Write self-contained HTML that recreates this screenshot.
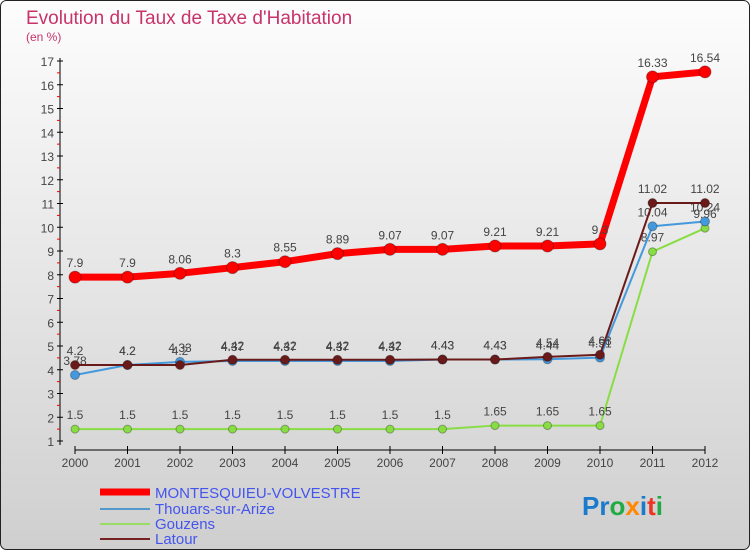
<!DOCTYPE html>
<html><head><meta charset="utf-8"><style>
body{margin:0;width:750px;height:550px;overflow:hidden;font-family:"Liberation Sans",sans-serif}
</style></head><body>
<svg width="750" height="550" xmlns="http://www.w3.org/2000/svg" id="svg">
<defs><linearGradient id="bg" x1="0" y1="0" x2="0" y2="1"><stop offset="0" stop-color="#fdfdfd"/><stop offset="1" stop-color="#cfcfcf"/></linearGradient></defs>
<rect x="0.5" y="0.5" width="749" height="549" rx="6" fill="url(#bg)" stroke="#222"/>
<text x="26" y="24" font-size="19" fill="#c8336a">Evolution du Taux de Taxe d'Habitation</text>
<text x="26" y="41" font-size="12" fill="#c8336a">(en %)</text>
<g id="axes"></g><g id="series"></g>
<g font-size="15">
<line x1="100" y1="492" x2="150" y2="492" stroke="#f00" stroke-width="7"/><text x="155" y="498" fill="#4455ee">MONTESQUIEU-VOLVESTRE</text>
<line x1="100" y1="509" x2="150" y2="509" stroke="#5599cc" stroke-width="2"/><text x="155" y="514" fill="#4455ee">Thouars-sur-Arize</text>
<line x1="100" y1="524" x2="150" y2="524" stroke="#99dd66" stroke-width="2"/><text x="155" y="529" fill="#4455ee">Gouzens</text>
<line x1="100" y1="539" x2="150" y2="539" stroke="#772222" stroke-width="2"/><text x="155" y="544" fill="#4455ee">Latour</text>
</g>
<text x="582" y="515" font-size="26" font-weight="bold"><tspan fill="#1a7acc">Pr</tspan><tspan fill="#22aa44">o</tspan><tspan fill="#ff8800">x</tspan><tspan fill="#1a7acc">i</tspan><tspan fill="#ee3322">t</tspan><tspan fill="#22aa44">i</tspan></text>
</svg>
<script>
const years=[2000,2001,2002,2003,2004,2005,2006,2007,2008,2009,2010,2011,2012];
const montesquieu=[7.9,7.9,8.06,8.3,8.55,8.89,9.07,9.07,9.21,9.21,9.3,16.33,16.54];
const thouars=[3.78,4.2,4.33,4.37,4.37,4.37,4.37,4.43,4.43,4.44,4.51,10.04,10.24];
const gouzens=[1.5,1.5,1.5,1.5,1.5,1.5,1.5,1.5,1.65,1.65,1.65,8.97,9.96];
const latour=[4.2,4.2,4.2,4.42,4.42,4.42,4.42,4.43,4.43,4.54,4.63,11.02,11.02];
const yTicks=[1,2,3,4,5,6,7,8,9,10,11,12,13,14,15,16,17];
const NS="http://www.w3.org/2000/svg";
const xS=i=>75+i*52.5, yS=v=>441-(v-1)*23.75;
function mk(t,a,p){const e=document.createElementNS(NS,t);for(const k in a)e.setAttribute(k,a[k]);p.appendChild(e);return e;}
const ax=document.getElementById('axes'), se=document.getElementById('series');
let l=mk('line',{x1:60,y1:58,x2:60,y2:445,stroke:'#000'},ax);


yTicks.forEach(v=>{const y=yS(v);
 mk('line',{x1:57,y1:y,x2:63,y2:y,stroke:'#000'},ax);
 if(v<17)mk('line',{x1:57,y1:yS(v+0.5),x2:60,y2:yS(v+0.5),stroke:'#e00'},ax);
 const t=mk('text',{x:54,y:y+5,'font-size':12,fill:'#444','text-anchor':'end'},ax);t.textContent=v;
 
 });
l=mk('line',{x1:75,y1:450,x2:705,y2:450,stroke:'#000'},ax);


years.forEach((yr,i)=>{const x=xS(i);mk('line',{x1:x,y1:446,x2:x,y2:454,stroke:'#000'},ax);
 const t=mk('text',{x:x,y:467,'font-size':12,fill:'#444','text-anchor':'middle'},ax);t.textContent=yr;
 
 });
function series(name,data,color,w,r){
 const g=mk('g',{},se);
 
 
 mk('polyline',{points:data.map((v,i)=>xS(i)+','+yS(v)).join(' '),fill:'none',stroke:color,'stroke-width':w,'stroke-linejoin':'round'},g);
 data.forEach((v,i)=>{const c=mk('circle',{cx:xS(i),cy:yS(v),r:r,fill:color,stroke:'rgba(0,0,0,0.3)'},g);
  
  
  const t=mk('text',{x:xS(i),y:yS(v)-10,'font-size':12,fill:'#444','text-anchor':'middle'},g);t.textContent=v;
  
  });
}
series('gouzens',gouzens,'#88dd44',2,4);
series('thouars',thouars,'#4499dd',2,4.5);
series('latour',latour,'#6b1a1a',2,4.5);
series('montesquieu',montesquieu,'#ff0000',7,6);
</script>
</body></html>
